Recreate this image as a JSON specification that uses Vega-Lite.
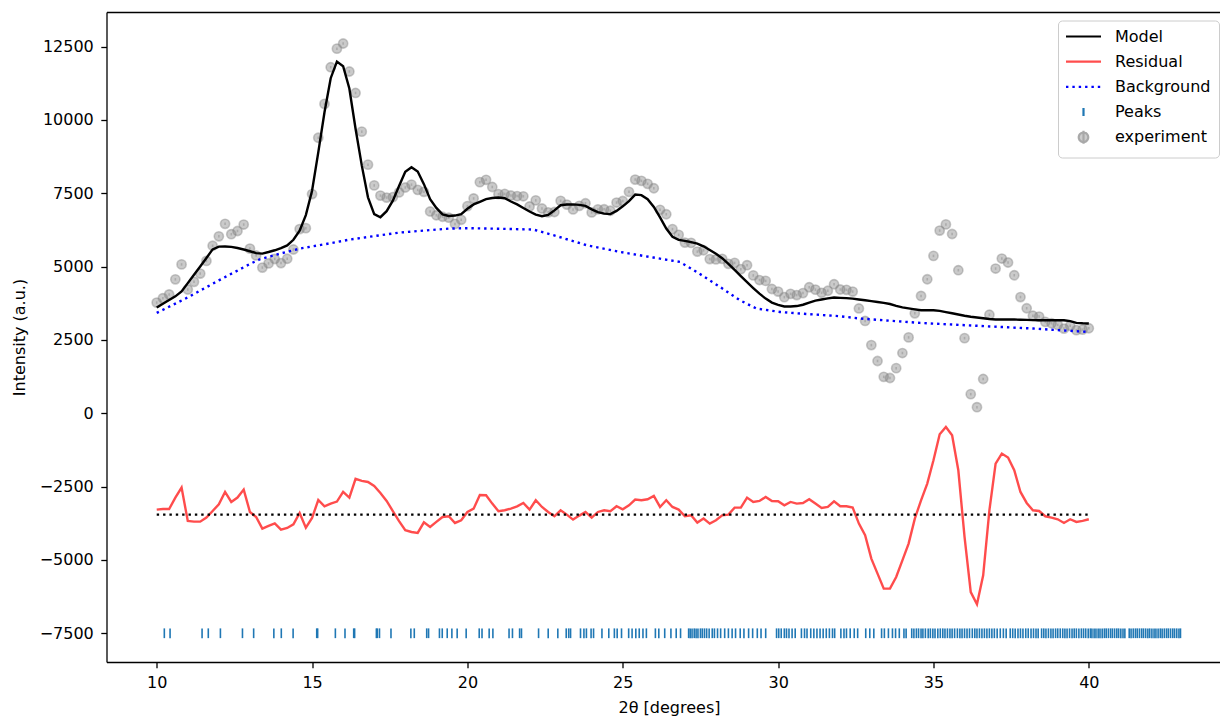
{
  "$schema": "https://vega.github.io/schema/vega-lite/v6.json",
  "width": 1113.5,
  "height": 650,
  "autosize": {"type": "none"},
  "padding": {"left": 106.5, "top": 12, "right": 0, "bottom": 57},
  "background": "white",
  "config": {
    "view": {"stroke": null},
    "font": "DejaVu Sans",
    "axis": {
      "domainColor": "black", "domainWidth": 1.3,
      "tickColor": "black", "tickWidth": 1.3, "tickSize": 5.7,
      "labelFont": "DejaVu Sans", "labelFontSize": 16, "labelColor": "black",
      "titleFont": "DejaVu Sans", "titleFontSize": 16, "titleFontWeight": "normal", "titleColor": "black",
      "grid": false, "labelFlush": false, "labelOverlap": false
    },
    "legend": {
      "orient": "none", "direction": "vertical", "legendX": 951.5, "legendY": 8.5,
      "padding": 8, "fillColor": "rgba(255,255,255,0.8)", "strokeColor": "#cccccc", "strokeWidth": 1, "cornerRadius": 4,
      "labelFont": "DejaVu Sans", "labelFontSize": 16, "labelColor": "black", "labelLimit": 0,
      "symbolSize": 100, "symbolStrokeWidth": 2.2, "symbolOffset": 9.5, "labelOffset": 23.5,
      "rowPadding": 1.2, "symbolFillColor": "transparent", "symbolOpacity": 1
    }
  },
  "datasets": {
    "pattern": [
      {"x":10.0,"exp":3774,"model":3604,"res":-3285},{"x":10.2,"exp":3923,"model":3731,"res":-3263},{"x":10.4,"exp":4051,"model":3859,"res":-3263},{"x":10.6,"exp":4566,"model":3986,"res":-2875},{"x":10.8,"exp":5074,"model":4153,"res":-2534},
      {"x":11.0,"exp":4219,"model":4437,"res":-3673},{"x":11.2,"exp":4480,"model":4720,"res":-3695},{"x":11.4,"exp":4763,"model":5003,"res":-3695},{"x":11.6,"exp":5193,"model":5295,"res":-3557},{"x":11.8,"exp":5711,"model":5587,"res":-3331},
      {"x":12.0,"exp":6033,"model":5681,"res":-3103},{"x":12.2,"exp":6458,"model":5686,"res":-2683},{"x":12.4,"exp":6105,"model":5674,"res":-3024},{"x":12.6,"exp":6214,"model":5634,"res":-2875},{"x":12.8,"exp":6434,"model":5582,"res":-2603},
      {"x":13.0,"exp":5613,"model":5523,"res":-3365},{"x":13.2,"exp":5380,"model":5460,"res":-3535},{"x":13.4,"exp":4967,"model":5444,"res":-3932},{"x":13.6,"exp":5110,"model":5497,"res":-3842},{"x":13.8,"exp":5260,"model":5557,"res":-3752},
      {"x":14.0,"exp":5119,"model":5631,"res":-3967},{"x":14.2,"exp":5267,"model":5723,"res":-3911},{"x":14.4,"exp":5584,"model":5914,"res":-3785},{"x":14.6,"exp":6279,"model":6224,"res":-3400},{"x":14.8,"exp":6311,"model":6756,"res":-3900},
      {"x":15.0,"exp":7473,"model":7587,"res":-3569},{"x":15.2,"exp":9392,"model":8894,"res":-2957},{"x":15.4,"exp":10547,"model":10264,"res":-3172},{"x":15.6,"exp":11798,"model":11423,"res":-3080},{"x":15.8,"exp":12431,"model":11988,"res":-3012},
      {"x":16.0,"exp":12605,"model":11833,"res":-2683},{"x":16.2,"exp":11652,"model":11072,"res":-2875},{"x":16.4,"exp":10920,"model":9700,"res":-2235},{"x":16.6,"exp":9600,"model":8450,"res":-2305},{"x":16.8,"exp":8475,"model":7362,"res":-2342},
      {"x":17.0,"exp":7768,"model":6791,"res":-2478},{"x":17.2,"exp":7421,"model":6683,"res":-2717},{"x":17.4,"exp":7353,"model":6888,"res":-2990},{"x":17.6,"exp":7370,"model":7250,"res":-3335},{"x":17.8,"exp":7530,"model":7750,"res":-3675},
      {"x":18.0,"exp":7697,"model":8231,"res":-3989},{"x":18.2,"exp":7794,"model":8386,"res":-4047},{"x":18.4,"exp":7616,"model":8242,"res":-4081},{"x":18.6,"exp":7550,"model":7812,"res":-3717},{"x":18.8,"exp":6879,"model":7300,"res":-3876},
      {"x":19.0,"exp":6750,"model":7000,"res":-3705},{"x":19.2,"exp":6700,"model":6780,"res":-3535},{"x":19.4,"exp":6668,"model":6725,"res":-3512},{"x":19.6,"exp":6455,"model":6740,"res":-3740},{"x":19.8,"exp":6597,"model":6790,"res":-3648},
      {"x":20.0,"exp":7060,"model":6970,"res":-3365},{"x":20.2,"exp":7324,"model":7120,"res":-3251},{"x":20.4,"exp":7880,"model":7210,"res":-2785},{"x":20.6,"exp":7959,"model":7300,"res":-2796},{"x":20.8,"exp":7715,"model":7340,"res":-3080},
      {"x":21.0,"exp":7469,"model":7355,"res":-3341},{"x":21.2,"exp":7478,"model":7330,"res":-3307},{"x":21.4,"exp":7424,"model":7220,"res":-3251},{"x":21.6,"exp":7403,"model":7120,"res":-3172},{"x":21.8,"exp":7397,"model":7000,"res":-3058},
      {"x":22.0,"exp":7050,"model":6880,"res":-3285},{"x":22.2,"exp":7258,"model":6770,"res":-2967},{"x":22.4,"exp":6981,"model":6720,"res":-3194},{"x":22.6,"exp":6850,"model":6760,"res":-3365},{"x":22.8,"exp":6861,"model":6918,"res":-3512},
      {"x":23.0,"exp":7241,"model":7093,"res":-3307},{"x":23.2,"exp":7114,"model":7115,"res":-3456},{"x":23.4,"exp":6950,"model":7120,"res":-3625},{"x":23.6,"exp":7071,"model":7105,"res":-3489},{"x":23.8,"exp":7160,"model":7070,"res":-3365},
      {"x":24.0,"exp":6848,"model":6950,"res":-3557},{"x":24.2,"exp":6950,"model":6860,"res":-3365},{"x":24.4,"exp":6955,"model":6807,"res":-3307},{"x":24.6,"exp":6903,"model":6790,"res":-3342},{"x":24.8,"exp":7184,"model":6900,"res":-3171},
      {"x":25.0,"exp":7236,"model":7055,"res":-3274},{"x":25.2,"exp":7548,"model":7230,"res":-3137},{"x":25.4,"exp":7966,"model":7455,"res":-2944},{"x":25.6,"exp":7923,"model":7435,"res":-2967},{"x":25.8,"exp":7822,"model":7300,"res":-2933},
      {"x":26.0,"exp":7672,"model":7036,"res":-2819},{"x":26.2,"exp":6937,"model":6676,"res":-3194},{"x":26.4,"exp":6785,"model":6297,"res":-2967},{"x":26.6,"exp":6277,"model":6016,"res":-3194},{"x":26.8,"exp":6082,"model":5912,"res":-3285},
      {"x":27.0,"exp":5819,"model":5876,"res":-3512},{"x":27.2,"exp":5809,"model":5832,"res":-3478},{"x":27.4,"exp":5511,"model":5784,"res":-3728},{"x":27.6,"exp":5557,"model":5693,"res":-3591},{"x":27.8,"exp":5257,"model":5564,"res":-3762},
      {"x":28.0,"exp":5244,"model":5437,"res":-3648},{"x":28.2,"exp":5264,"model":5287,"res":-3478},{"x":28.4,"exp":5095,"model":5095,"res":-3455},{"x":28.6,"exp":5126,"model":4887,"res":-3216},{"x":28.8,"exp":4914,"model":4675,"res":-3216},
      {"x":29.0,"exp":5048,"model":4468,"res":-2875},{"x":29.2,"exp":4700,"model":4269,"res":-3024},{"x":29.4,"exp":4542,"model":4077,"res":-2990},{"x":29.6,"exp":4512,"model":3910,"res":-2853},{"x":29.8,"exp":4237,"model":3772,"res":-2990},
      {"x":30.0,"exp":4149,"model":3695,"res":-3001},{"x":30.2,"exp":3958,"model":3640,"res":-3137},{"x":30.4,"exp":4071,"model":3640,"res":-3024},{"x":30.6,"exp":4030,"model":3655,"res":-3080},{"x":30.8,"exp":4097,"model":3700,"res":-3058},
      {"x":31.0,"exp":4297,"model":3775,"res":-2933},{"x":31.2,"exp":4215,"model":3840,"res":-3080},{"x":31.4,"exp":4107,"model":3880,"res":-3228},{"x":31.6,"exp":4176,"model":3915,"res":-3194},{"x":31.8,"exp":4399,"model":3945,"res":-3001},
      {"x":32.0,"exp":4219,"model":3935,"res":-3171},{"x":32.2,"exp":4209,"model":3925,"res":-3171},{"x":32.4,"exp":4149,"model":3910,"res":-3216},{"x":32.6,"exp":3573,"model":3880,"res":-3762},{"x":32.8,"exp":3147,"model":3852,"res":-4160},
      {"x":33.0,"exp":2324,"model":3824,"res":-4955},{"x":33.2,"exp":1782,"model":3794,"res":-5467},{"x":33.4,"exp":1241,"model":3764,"res":-5978},{"x":33.6,"exp":1202,"model":3725,"res":-5978},{"x":33.8,"exp":1537,"model":3663,"res":-5581},
      {"x":34.0,"exp":2053,"model":3611,"res":-5013},{"x":34.2,"exp":2587,"model":3576,"res":-4444},{"x":34.4,"exp":3406,"model":3542,"res":-3591},{"x":34.6,"exp":4000,"model":3512,"res":-2967},{"x":34.8,"exp":4569,"model":3512,"res":-2398},
      {"x":35.0,"exp":5364,"model":3512,"res":-1603},{"x":35.2,"exp":6229,"model":3491,"res":-717},{"x":35.4,"exp":6438,"model":3450,"res":-467},{"x":35.6,"exp":6112,"model":3408,"res":-751},{"x":35.8,"exp":4877,"model":3366,"res":-1944},
      {"x":36.0,"exp":2561,"model":3323,"res":-4217},{"x":36.2,"exp":651,"model":3291,"res":-6095},{"x":36.4,"exp":207,"model":3265,"res":-6513},{"x":36.6,"exp":1169,"model":3238,"res":-5524},{"x":36.8,"exp":3360,"model":3212,"res":-3307},
      {"x":37.0,"exp":4934,"model":3195,"res":-1716},{"x":37.2,"exp":5275,"model":3195,"res":-1375},{"x":37.4,"exp":5139,"model":3195,"res":-1511},{"x":37.6,"exp":4706,"model":3195,"res":-1944},{"x":37.8,"exp":3962,"model":3190,"res":-2683},
      {"x":38.0,"exp":3580,"model":3183,"res":-3058},{"x":38.2,"exp":3325,"model":3177,"res":-3307},{"x":38.4,"exp":3295,"model":3171,"res":-3331},{"x":38.6,"exp":3114,"model":3171,"res":-3512},{"x":38.8,"exp":3069,"model":3171,"res":-3557},
      {"x":39.0,"exp":3012,"model":3171,"res":-3614},{"x":39.2,"exp":2886,"model":3171,"res":-3740},{"x":39.4,"exp":2981,"model":3140,"res":-3614},{"x":39.6,"exp":2833,"model":3083,"res":-3705},{"x":39.8,"exp":2851,"model":3067,"res":-3671},
      {"x":40.0,"exp":2899,"model":3058,"res":-3614}
    ],
    "background": [
      {"x":10,"bkg":3420},{"x":11,"bkg":3950},{"x":12,"bkg":4530},{"x":13,"bkg":5090},{"x":13.32,"bkg":5250},{"x":14,"bkg":5450},
      {"x":14.61,"bkg":5616},{"x":15.5,"bkg":5780},{"x":16.22,"bkg":5923},{"x":17,"bkg":6040},{"x":17.83,"bkg":6162},{"x":18.47,"bkg":6217},
      {"x":19.44,"bkg":6298},{"x":20,"bkg":6310},{"x":21,"bkg":6290},{"x":22.12,"bkg":6264},{"x":22.77,"bkg":6070},{"x":23.84,"bkg":5729},
      {"x":24.91,"bkg":5500},{"x":25.98,"bkg":5309},{"x":26.84,"bkg":5160},{"x":27.38,"bkg":4818},{"x":28.13,"bkg":4307},{"x":28.77,"bkg":3853},
      {"x":29.3,"bkg":3570},{"x":30.06,"bkg":3454},{"x":30.7,"bkg":3400},{"x":32,"bkg":3308},{"x":32.64,"bkg":3229},{"x":34.57,"bkg":3080},
      {"x":36.5,"bkg":2977},{"x":38.21,"bkg":2888},{"x":40,"bkg":2770}
    ],
    "offset": [{"x0": 10, "x1": 40, "level": -3455}],
    "peaks": [
      {"pos":10.245},{"pos":10.43},{"pos":11.46},{"pos":11.66},{"pos":12.05},{"pos":12.76},{"pos":13.12},{"pos":13.77},{"pos":14.01},{"pos":14.39},
      {"pos":15.15},{"pos":15.18},{"pos":15.75},{"pos":16.06},{"pos":16.34},{"pos":16.37},{"pos":17.07},{"pos":17.10},{"pos":17.17},{"pos":17.54},
      {"pos":18.18},{"pos":18.29},{"pos":18.69},{"pos":18.75},{"pos":19.10},{"pos":19.19},{"pos":19.35},{"pos":19.50},{"pos":19.67},{"pos":19.96},
      {"pos":20.38},{"pos":20.47},{"pos":20.70},{"pos":20.82},{"pos":21.34},{"pos":21.45},{"pos":21.68},{"pos":21.74},{"pos":22.29},{"pos":22.60},
      {"pos":22.91},{"pos":23.18},{"pos":23.26},{"pos":23.32},{"pos":23.64},{"pos":23.75},{"pos":23.83},{"pos":23.98},{"pos":24.06},{"pos":24.33},
      {"pos":24.55},{"pos":24.73},{"pos":24.82},{"pos":24.96},{"pos":25.19},{"pos":25.30},{"pos":25.42},{"pos":25.53},{"pos":25.65},{"pos":25.76},
      {"pos":26.05},{"pos":26.16},{"pos":26.35},{"pos":26.55},{"pos":26.72},{"pos":26.86},
      {"pos":27.12},{"pos":27.17},{"pos":27.23},{"pos":27.30},{"pos":27.36},{"pos":27.42},{"pos":27.50},{"pos":27.56},{"pos":27.63},{"pos":27.70},
      {"pos":27.78},{"pos":27.88},{"pos":27.95},{"pos":28.05},{"pos":28.15},{"pos":28.28},{"pos":28.40},{"pos":28.52},{"pos":28.63},{"pos":28.78},
      {"pos":28.90},{"pos":29.05},{"pos":29.18},{"pos":29.33},{"pos":29.45},{"pos":29.60},
      {"pos":29.95},{"pos":30.02},{"pos":30.10},{"pos":30.20},{"pos":30.27},{"pos":30.35},{"pos":30.45},{"pos":30.55},
      {"pos":30.75},{"pos":30.85},{"pos":30.93},{"pos":31.05},{"pos":31.15},{"pos":31.25},{"pos":31.35},{"pos":31.45},{"pos":31.55},{"pos":31.65},{"pos":31.75},{"pos":31.82},
      {"pos":32.02},{"pos":32.12},{"pos":32.20},{"pos":32.32},{"pos":32.45},{"pos":32.56},{"pos":32.82},{"pos":32.95},{"pos":33.08},
      {"pos":33.33},{"pos":33.42},{"pos":33.55},{"pos":33.68},{"pos":33.78},{"pos":33.90},{"pos":34.05},{"pos":34.12},
      {"pos":34.30},{"pos":34.37},{"pos":34.45},{"pos":34.52},{"pos":34.60},{"pos":34.66},{"pos":34.74},{"pos":34.83},{"pos":34.90},{"pos":34.98},
      {"pos":35.05},{"pos":35.14},{"pos":35.22},{"pos":35.30},{"pos":35.37},{"pos":35.45},{"pos":35.53},{"pos":35.60},{"pos":35.68},{"pos":35.77},
      {"pos":35.85},{"pos":35.92},{"pos":36.00},{"pos":36.08},{"pos":36.16},{"pos":36.25},{"pos":36.33},{"pos":36.40},{"pos":36.48},{"pos":36.56},
      {"pos":36.64},{"pos":36.72},{"pos":36.80},{"pos":36.88},
      {"pos":36.96},{"pos":37.05},{"pos":37.15},{"pos":37.25},{"pos":37.34},
      {"pos":37.47},{"pos":37.55},{"pos":37.63},{"pos":37.72},{"pos":37.80},{"pos":37.88},{"pos":37.97},{"pos":38.05},{"pos":38.14},{"pos":38.22},{"pos":38.30},{"pos":38.37},
      {"pos":38.48},{"pos":38.55},{"pos":38.62},{"pos":38.70},{"pos":38.78},{"pos":38.85},{"pos":38.93},{"pos":39.00},{"pos":39.08},{"pos":39.16},
      {"pos":39.23},{"pos":39.30},{"pos":39.38},{"pos":39.46},{"pos":39.53},{"pos":39.60},{"pos":39.68},{"pos":39.76},{"pos":39.83},{"pos":39.90},
      {"pos":39.98},{"pos":40.05},{"pos":40.10},
      {"pos":40.17},{"pos":40.23},{"pos":40.30},{"pos":40.36},{"pos":40.43},{"pos":40.50},{"pos":40.56},{"pos":40.63},{"pos":40.70},{"pos":40.76},
      {"pos":40.83},{"pos":40.90},{"pos":40.96},{"pos":41.03},{"pos":41.10},{"pos":41.16},{"pos":41.30},{"pos":41.36},{"pos":41.43},{"pos":41.50},
      {"pos":41.56},{"pos":41.63},{"pos":41.70},{"pos":41.76},{"pos":41.83},{"pos":41.90},{"pos":41.96},{"pos":42.03},{"pos":42.10},{"pos":42.16},
      {"pos":42.23},{"pos":42.30},{"pos":42.36},{"pos":42.43},{"pos":42.50},{"pos":42.56},{"pos":42.63},{"pos":42.70},{"pos":42.76},{"pos":42.83},
      {"pos":42.90},{"pos":42.95}
    ]
  },
  "layer": [
    {
      "data": {"name": "pattern"},
      "mark": {"type": "point", "shape": "circle", "filled": true, "color": "gray", "stroke": "gray", "fillOpacity": 0.42, "strokeOpacity": 0.42, "opacity": 1, "strokeWidth": 1.6, "size": 85},
      "encoding": {
        "x": {"field": "x", "type": "quantitative",
              "scale": {"domain": [8.384, 44.222], "nice": false, "zero": false},
              "axis": {"orient": "bottom", "values": [10, 15, 20, 25, 30, 35, 40], "format": "d",
                       "title": "2θ [degrees]", "titleX": 562.5, "titleY": 50, "titleBaseline": "alphabetic", "titleAlign": "center",
                       "labelBaseline": "alphabetic", "labelPadding": 19.3}},
        "y": {"field": "exp", "type": "quantitative",
              "scale": {"domain": [-8480, 13680], "nice": false, "zero": false},
              "axis": {"orient": "left", "values": [-7500, -5000, -2500, 0, 2500, 5000, 7500, 10000, 12500], "format": "d",
                       "title": "Intensity (a.u.)", "titleX": -81.8, "titleBaseline": "alphabetic", "labelPadding": 7.5}}
      }
    },
    {
      "data": {"name": "pattern"},
      "mark": {"type": "tick", "orient": "vertical", "size": 2.5, "thickness": 1.6, "color": "gray", "opacity": 0.42},
      "encoding": {
        "x": {"field": "x", "type": "quantitative", "scale": {"domain": [8.384, 44.222], "nice": false, "zero": false}, "axis": null},
        "y": {"field": "exp", "type": "quantitative", "scale": {"domain": [-8480, 13680], "nice": false, "zero": false}}
      }
    },
    {
      "data": {"name": "pattern"},
      "mark": {"type": "line", "color": "black", "strokeWidth": 2.4},
      "encoding": {
        "x": {"field": "x", "type": "quantitative", "scale": {"domain": [8.384, 44.222], "nice": false, "zero": false}, "axis": null},
        "y": {"field": "model", "type": "quantitative", "scale": {"domain": [-8480, 13680], "nice": false, "zero": false}}
      }
    },
    {
      "data": {"name": "pattern"},
      "mark": {"type": "line", "color": "red", "opacity": 0.7, "strokeWidth": 2.4},
      "encoding": {
        "x": {"field": "x", "type": "quantitative", "scale": {"domain": [8.384, 44.222], "nice": false, "zero": false}, "axis": null},
        "y": {"field": "res", "type": "quantitative", "scale": {"domain": [-8480, 13680], "nice": false, "zero": false}}
      }
    },
    {
      "data": {"name": "background"},
      "mark": {"type": "line", "color": "blue", "strokeWidth": 2.4, "strokeDash": [2.4, 3.96]},
      "encoding": {
        "x": {"field": "x", "type": "quantitative", "scale": {"domain": [8.384, 44.222], "nice": false, "zero": false}, "axis": null},
        "y": {"field": "bkg", "type": "quantitative", "scale": {"domain": [-8480, 13680], "nice": false, "zero": false}}
      }
    },
    {
      "data": {"name": "offset"},
      "mark": {"type": "rule", "color": "black", "strokeWidth": 2.4, "strokeDash": [2.4, 3.96]},
      "encoding": {
        "x": {"field": "x0", "type": "quantitative", "scale": {"domain": [8.384, 44.222], "nice": false, "zero": false},
              "axis": {"orient": "top", "labels": false, "ticks": false, "title": null, "domain": true}},
        "x2": {"field": "x1"},
        "y": {"field": "level", "type": "quantitative", "scale": {"domain": [-8480, 13680], "nice": false, "zero": false}}
      }
    },
    {
      "data": {"name": "peaks"},
      "mark": {"type": "tick", "orient": "vertical", "size": 9.75, "thickness": 1.6, "color": "#1f77b4", "opacity": 1},
      "encoding": {
        "x": {"field": "pos", "type": "quantitative", "scale": {"domain": [8.384, 44.222], "nice": false, "zero": false}, "axis": null},
        "y": {"datum": -7500, "type": "quantitative", "scale": {"domain": [-8480, 13680], "nice": false, "zero": false}}
      }
    },
    {
      "data": {"values": []},
      "mark": {"type": "point", "opacity": 1, "strokeWidth": 2.2},
      "encoding": {
        "stroke": {"field": "series", "type": "nominal",
                   "scale": {"domain": ["Model", "Residual", "Background", "Peaks", "experiment"],
                             "range": ["black", "#ff4d4d", "blue", "#1f77b4", "#a9a9a9"]},
                   "legend": {"title": null}},
        "fill": {"field": "series", "type": "nominal",
                 "scale": {"domain": ["Model", "Residual", "Background", "Peaks", "experiment"],
                           "range": ["transparent", "transparent", "transparent", "transparent", "#cccccc"]},
                 "legend": {"title": null}},
        "shape": {"field": "series", "type": "nominal",
                  "scale": {"domain": ["Model", "Residual", "Background", "Peaks", "experiment"],
                            "range": ["M-3.5,-1.4M3.5,1.4M-3.5,0H3.5",
                                      "M-3.5,-1.4M3.5,1.4M-3.5,0H3.5",
                                      "M-3.5,-1.4M3.5,1.4M-3.5,0H3.5",
                                      "M-3.5,-1.4M3.5,1.4M0,-0.8V0.8",
                                      "M-3.5,-1.4M3.5,1.4M0,-1.3V1.3M0.95,0A0.95,0.95,0,1,1,-0.95,0A0.95,0.95,0,1,1,0.95,0Z"]},
                  "legend": {"title": null}},
        "strokeDash": {"field": "series", "type": "nominal",
                       "scale": {"domain": ["Model", "Residual", "Background", "Peaks", "experiment"],
                                 "range": [[1, 0], [1, 0], [2.4, 3.96], [1, 0], [1, 0]]},
                       "legend": {"title": null}}
      }
    }
  ]
}
